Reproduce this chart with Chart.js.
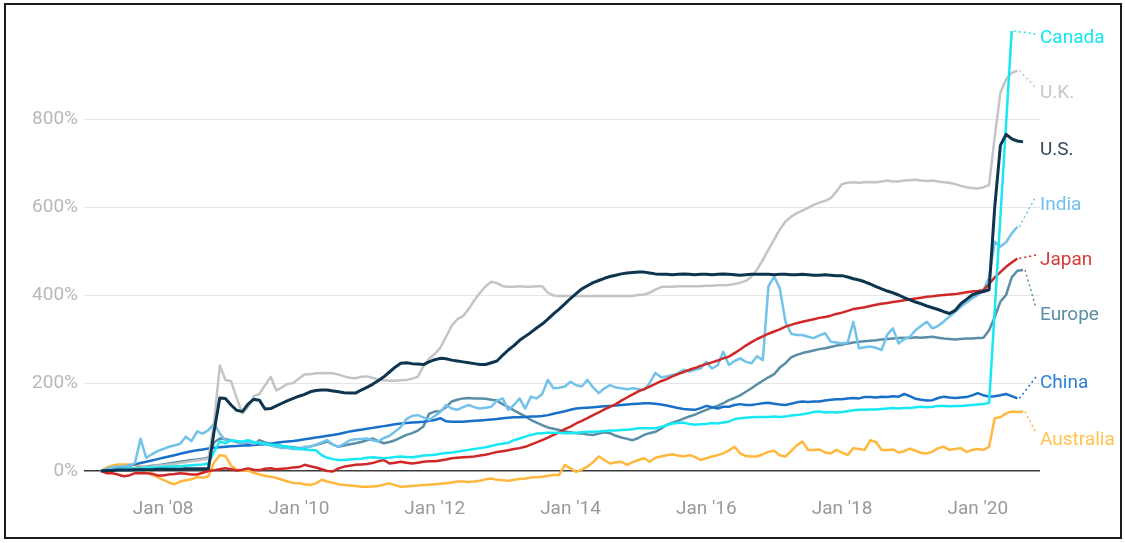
<!DOCTYPE html>
<html>
<head>
<meta charset="utf-8">
<script src="https://cdn.jsdelivr.net/npm/chart.js@4"></script>
<style>
    html, body { margin: 0; padding: 0; background: #fff; }
    #wrap { position: relative; width: 1125px; height: 543px; }
    #frame { position: absolute; left: 4px; top: 3px; width: 1114px; height: 532px; border: 2px solid #1b1b1b; pointer-events: none; }
</style>
</head>
<body>
<div id="wrap">
    <canvas id="myChart" width="1125" height="543"></canvas>
    <div id="frame"></div>
</div>
<script>
// monthly points, Feb 2007 .. Sep 2020
const months = [];
for (let y = 2007; y <= 2020; y++) {
    for (let m = 1; m <= 12; m++) {
        const key = y + "-" + String(m).padStart(2, "0");
        if (key >= "2007-02" && key <= "2020-09") months.push(key);
    }
}

const tickMonths = ["2008-01", "2010-01", "2012-01", "2014-01", "2016-01", "2018-01", "2020-01"];
const tickLabels = ["Jan '08", "Jan '10", "Jan '12", "Jan '14", "Jan '16", "Jan '18", "Jan '20"];
const yTicks = [0, 200, 400, 600, 800];

const countries = ["U.S.", "Canada", "U.K.", "Japan", "India", "China", "Europe", "Australia"];

// % change, one value per month
const usValues = [
    0,1,1,2,2,2,3,3,3,3, 4,4,4,4,4,5,5,5,5,5,
    90,166,165,150,138,135,152,163,161,141, 142,148,154,160,165,170,174,180,183,184,
    184,182,180,178,177,177,184,190,197,205, 214,225,236,245,246,244,243,242,248,253,
    256,255,252,250,248,246,244,242,242,246, 250,263,275,285,297,306,315,325,334,345,
    357,368,380,392,403,414,421,428,433,438, 442,445,448,450,451,452,452,450,448,447,
    447,446,447,448,447,446,447,447,446,447, 448,447,446,445,446,447,447,447,447,446,
    447,447,446,446,447,446,445,445,446,445, 444,444,441,437,434,430,425,419,414,409,
    405,400,394,389,384,380,375,371,367,362, 358,365,380,390,400,405,408,412,600,740,
    765,755,750,748
];
const canadaValues = [
    0,1,2,3,4,5,5,6,7,8, 8,9,10,10,11,12,13,14,15,17,
    44,67,63,70,68,67,70,66,63,62, 60,59,57,55,53,50,49,48,47,36,
    30,27,25,25,26,27,28,30,31,30, 29,30,32,33,32,31,33,35,36,37,
    39,41,42,44,46,48,50,52,54,57, 60,62,64,70,74,78,82,85,86,87,
    87,87,86,86,87,88,89,89,90,91, 92,92,93,94,95,97,97,97,97,100,
    104,108,109,110,107,105,106,107,109,108, 110,112,118,120,121,122,123,123,123,124,
    123,124,126,127,129,131,134,135,133,134, 133,134,136,138,139,139,140,140,141,142,
    143,142,143,143,145,146,145,146,148,148, 147,148,148,149,150,151,152,155,null,null,
    null,1000,null,null
];
const ukValues = [
    0,1,2,3,4,5,6,8,9,10, 12,13,15,16,18,20,22,24,26,28,
    110,240,207,204,165,131,145,170,175,195, 214,183,190,198,200,210,220,220,222,222,
    223,222,219,215,212,211,214,215,212,208, 206,205,205,206,207,210,214,238,255,266,
    280,305,330,345,352,368,388,405,420,430, 427,420,419,419,420,419,419,420,420,405,
    399,398,398,398,398,398,398,398,398,398, 398,398,398,398,398,400,401,405,412,418,
    419,419,420,420,420,420,420,421,421,422, 422,423,425,428,432,442,458,480,503,526,
    549,567,578,586,592,598,605,610,614,620, 635,652,655,656,655,656,657,656,658,660,
    658,658,660,661,662,660,659,660,658,656, 655,652,648,645,643,642,645,650,760,860,
    890,905,910,null
];
const japanValues = [
    0,-5,-5,-8,-12,-10,-5,-5,-5,-6, -10,-10,-8,-7,-5,-6,-8,-8,-4,0,
    2,4,6,4,1,3,6,3,2,5, 6,4,5,6,8,9,14,11,8,4,
    0,-1,6,10,12,14,15,16,18,22, 25,17,19,21,19,17,19,21,22,22,
    24,26,29,30,31,32,33,35,37,40, 43,45,47,50,52,55,60,65,70,76,
    82,88,95,101,108,114,120,127,133,140, 146,152,160,167,174,181,186,192,198,204,
    209,215,220,225,230,234,239,243,247,251, 256,260,268,276,285,293,300,306,312,317,
    322,328,332,336,339,342,345,348,350,353, 357,360,364,368,370,372,375,378,380,382,
    384,386,388,390,392,394,396,397,399,400, 401,402,404,406,408,409,411,425,440,452,
    464,474,483,null
];
const indiaValues = [
    0,5,8,10,10,12,18,73,30,38, 45,50,55,58,62,78,68,90,85,93,
    108,85,70,68,68,63,66,62,65,62, 58,55,52,52,50,50,55,55,60,65,
    70,60,55,62,70,72,73,74,70,67, 75,80,90,100,118,125,127,122,116,125,
    134,150,142,139,145,150,145,142,144,146, 160,165,139,150,165,142,169,165,175,207,
    188,189,192,203,195,192,207,190,177,188, 195,190,188,186,188,186,184,200,223,213,
    215,218,222,230,226,230,233,248,233,240, 271,241,250,256,248,245,261,252,420,442,
    415,340,312,309,309,305,302,308,313,294, 292,290,292,339,279,281,283,280,275,310,
    324,290,300,305,320,330,339,324,330,340, 351,362,373,383,392,400,411,440,521,510,
    520,540,555,null
];
const chinaValues = [
    0,2,4,6,9,12,15,18,21,24, 27,30,33,36,39,42,45,47,49,51,
    53,54,55,56,57,58,58,59,60,61, 62,64,66,67,68,70,72,74,76,78,
    80,82,84,87,90,92,94,96,98,100, 102,104,106,108,109,110,111,112,114,116,
    120,113,112,112,112,113,114,115,116,117, 118,120,121,122,122,123,124,124,125,127,
    130,133,136,139,142,143,144,145,146,147, 148,149,150,151,152,153,154,154,153,151,
    149,146,143,141,140,139,143,148,145,142, 146,146,150,152,150,150,152,154,155,153,
    151,150,153,156,158,157,158,158,160,162, 163,163,165,166,165,168,168,167,169,168,
    170,169,175,170,164,162,160,161,166,169, 167,166,167,168,172,177,172,169,170,172,
    175,170,165,null
];
const europeValues = [
    0,1,2,3,5,6,7,9,10,12, 13,15,17,19,21,23,25,26,28,30,
    65,74,72,70,66,63,61,60,70,65, 62,60,57,55,54,52,52,56,59,63,
    67,60,55,58,61,63,66,70,74,68, 63,66,70,76,82,86,92,101,130,135,
    136,145,158,162,165,166,165,165,164,162, 160,152,145,138,131,124,116,110,104,99,
    96,93,90,88,86,85,83,82,85,88, 86,80,76,73,70,75,82,86,89,96,
    105,110,114,119,124,128,134,139,144,148, 154,161,166,172,180,188,197,205,213,220,
    235,245,258,264,268,271,274,277,279,282, 285,287,290,292,294,295,296,297,299,300,
    301,302,303,302,304,303,304,305,303,301, 300,299,300,301,301,302,303,320,350,385,
    400,440,455,457
];
const australiaValues = [
    0,8,12,15,15,15,14,10,3,-9, -14,-20,-26,-30,-24,-21,-19,-14,-15,-12,
    20,36,34,12,3,1,1,-4,-8,-11, -13,-16,-20,-24,-27,-28,-30,-32,-28,-20,
    -24,-27,-30,-32,-33,-34,-36,-36,-35,-34, -31,-28,-32,-36,-35,-34,-33,-32,-31,-30,
    -29,-28,-26,-24,-24,-25,-24,-22,-19,-17, -20,-21,-22,-20,-18,-17,-15,-14,-13,-11,
    -9,-9,14,6,-2,3,10,20,33,25, 17,20,21,14,20,25,29,21,30,33,
    36,38,35,33,36,32,25,29,33,36, 40,47,55,40,34,33,33,38,44,46,
    36,33,45,58,67,48,48,49,42,40, 48,42,36,52,50,48,70,66,48,48,
    49,42,45,51,46,41,40,44,52,55, 48,50,52,43,48,50,48,55,120,122,
    131,135,134,135
];

const seriesValues = [usValues, canadaValues, ukValues, japanValues, indiaValues, chinaValues, europeValues, australiaValues];

// styling, same order as countries
const lineColors = ["#0e3550", "#18e8f3", "#c4c4c4", "#d02828", "#72c2ea", "#1870c8", "#5a8da6", "#ffb83d"];
const textColors = ["#34495e", "#14e6f2", "#c6c6c6", "#d63a3a", "#72c2ea", "#2d7fd3", "#5a8da6", "#ffc24d"];
const labelBaseline = [155, 43, 98, 265, 210, 388, 320, 445];
const leaderEnd = [null, 34, 88, 255, 196, 377, 308, 433];

function monthIndex(key) {
    const parts = key.split("-");
    return (Number(parts[0]) - 2007) * 12 + Number(parts[1]) - 1;
}

const datasets = countries.map((name, d) => {
    return {
        label: name,
        data: seriesValues[d].map((v, k) => ({ x: monthIndex(months[k]), y: v })),
        borderColor: lineColors[d],
        borderWidth: d === 0 ? 3 : 2.5,
        borderJoinStyle: "round",
        pointRadius: 0,
        tension: 0,
        fill: false,
        spanGaps: d === 1
    };
});

// labels at the right end of every line, with dotted leaders
const endLabels = {
    id: "endLabels",
    afterDatasetsDraw(chart) {
        const ctx = chart.ctx;
        ctx.save();
        ctx.font = "19px Roboto";
        ctx.textBaseline = "alphabetic";
        ctx.textAlign = "left";
        countries.forEach((name, d) => {
            const meta = chart.getDatasetMeta(d);
            const values = seriesValues[d];
            let last = values.length - 1;
            while (last > 0 && values[last] === null) last--;
            const pt = meta.data[last];

            if (leaderEnd[d] !== null) {
                ctx.beginPath();
                ctx.setLineDash([2, 3]);
                ctx.lineWidth = 1.5;
                ctx.strokeStyle = lineColors[d];
                ctx.moveTo(pt.x + 2, pt.y);
                ctx.lineTo(1036, leaderEnd[d]);
                ctx.stroke();
                ctx.setLineDash([]);
            }

            ctx.fillStyle = textColors[d];
            ctx.fillText(name, 1040, labelBaseline[d]);
        });
        ctx.restore();
    }
};

new Chart("myChart", {
    type: "line",
    data: { datasets: datasets },
    plugins: [endLabels],
    options: {
        responsive: false,
        animation: false,
        devicePixelRatio: 1,
        layout: { padding: { top: 31, right: 85, bottom: 20, left: 0 } },
        plugins: {
            legend: { display: false },
            tooltip: { enabled: false }
        },
        scales: {
            x: {
                type: "linear",
                min: -2,
                max: 167,
                afterFit: (scale) => { scale.height = 30; },
                afterBuildTicks: (scale) => {
                    scale.ticks = tickMonths.map(m => ({ value: monthIndex(m) }));
                },
                grid: { display: false, drawTicks: false },
                border: { display: false },
                ticks: {
                    autoSkip: false,
                    maxRotation: 0,
                    padding: 5,
                    color: "#999999",
                    font: { family: "Roboto", size: 19 },
                    callback: (value, index) => tickLabels[index]
                }
            },
            y: {
                min: -50,
                max: 1000,
                afterFit: (scale) => { scale.width = 84; },
                afterBuildTicks: (scale) => {
                    scale.ticks = yTicks.map(v => ({ value: v }));
                },
                grid: {
                    drawTicks: false,
                    color: (c) => (c.tick && c.tick.value === 0 ? "#3c3c3c" : "#e6e6e6"),
                    lineWidth: (c) => (c.tick && c.tick.value === 0 ? 1.5 : 1)
                },
                border: { display: false },
                ticks: {
                    padding: 6,
                    color: "#b8b8b8",
                    font: { family: "Roboto", size: 19 },
                    callback: (value) => value + "%"
                }
            }
        }
    }
});
</script>
</body>
</html>
